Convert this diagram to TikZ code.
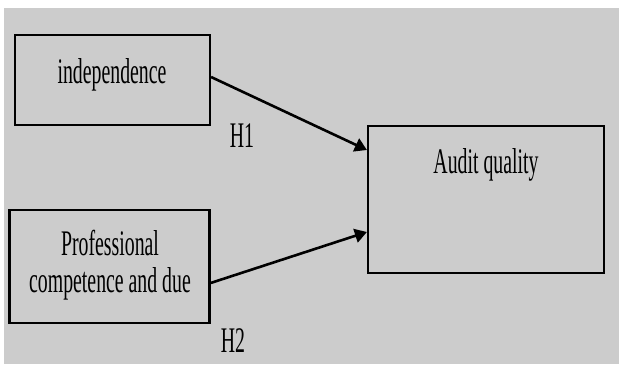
\documentclass[tikz,border=0pt]{standalone}
\usepackage{fontspec}
\setmainfont{Liberation Serif}[FakeStretch=0.55]
\usetikzlibrary{arrows.meta,calc}
\definecolor{bggray}{RGB}{204,204,204}
\begin{document}
\begin{tikzpicture}[x=1pt,y=-1pt,
  boxnode/.style={draw=black,line width=2.2pt,rectangle,inner sep=0pt},
  lbl/.style={inner sep=0pt,font=\fontsize{36}{37}\selectfont,align=center},
  arr/.style={line width=2.6pt,-{Triangle[length=12pt,width=14pt]}}]
\useasboundingbox (0,0) rectangle (619,365);
\fill[white] (0,0) rectangle (619,365);
\fill[bggray] (3.5,7.5) rectangle (619,364);
\node[boxnode,minimum width=195pt,minimum height=90pt] (b1) at (112.5,80) {};
\node[boxnode,minimum width=200pt,minimum height=113pt] (b2) at (109.5,266.5) {};
\node[boxnode,minimum width=236pt,minimum height=147pt] (b3) at (486,199.5) {};
\node[lbl,anchor=base] (t1) at (112,83) {independence};
\node[lbl,anchor=base] (t2) at (110,292) {Professional\\competence and due};
\node[lbl,anchor=base] (t3) at (486,173) {Audit quality};
\node[lbl,anchor=base] (h1) at (242,147) {H1};
\node[lbl,anchor=base] (h2) at (233,352) {H2};
\draw[arr] ($(b1.east)+(0,-3)$) -- ($(b3.west)+(0,-49.5)$);
\draw[arr] ($(b2.east)+(0,16.5)$) -- ($(b3.west)+(0,32.5)$);
\end{tikzpicture}
\end{document}
